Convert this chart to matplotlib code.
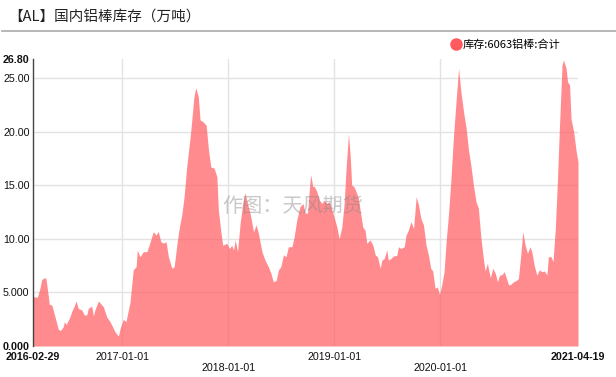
import numpy as np
import matplotlib
matplotlib.use("Agg")
import matplotlib.pyplot as plt
import matplotlib.dates as mdates
from matplotlib.lines import Line2D

plt.rcParams['font.family'] = ['Liberation Sans', 'Noto Sans CJK SC', 'DejaVu Sans']

# data: days after 2016-02-29 and stock (万吨)
start_date = '2016-02-29'
end_date = '2021-04-19'
day_offsets = [0, 15, 24, 30, 41, 45, 53, 56, 65, 76, 87, 95, 104, 108, 114, 127, 133, 141, 148, 156,
               168, 176, 185, 190, 202, 208, 213, 225, 233, 242, 254, 263, 271, 282, 294, 300, 311, 320,
               334, 345, 355, 359, 368, 380, 392, 400, 414, 424, 431, 440, 449, 458, 466, 478, 486, 495,
               504, 512, 520, 529, 541, 546, 554, 560, 569, 575, 586, 596, 604, 612, 623, 633, 638, 646,
               653, 667, 676, 684, 690, 696, 704, 713, 722, 730, 738, 747, 759, 768, 776, 788, 799, 810,
               819, 827, 837, 845, 853, 862, 871, 879, 891, 899, 908, 919, 929, 937, 945, 951, 956, 963,
               968, 977, 986, 994, 1002, 1011, 1020, 1029, 1036, 1046, 1054, 1063, 1071, 1078, 1086, 1092,
               1097, 1105, 1112, 1120, 1126, 1135, 1143, 1149, 1160, 1170, 1178, 1186, 1195, 1201, 1209,
               1218, 1223, 1232, 1241, 1252, 1258, 1266, 1278, 1284, 1292, 1301, 1310, 1319, 1327, 1335,
               1344, 1353, 1361, 1369, 1376, 1384, 1392, 1399, 1407, 1415, 1422, 1430, 1438, 1447, 1457,
               1465, 1473, 1482, 1491, 1499, 1507, 1516, 1525, 1533, 1542, 1551, 1556, 1564, 1574, 1583,
               1591, 1599, 1606, 1614, 1622, 1629, 1637, 1645, 1654, 1663, 1671, 1679, 1686, 1694, 1702,
               1711, 1717, 1725, 1734, 1743, 1752, 1760, 1769, 1774, 1783, 1790, 1798, 1805, 1812, 1821,
               1826, 1835, 1840, 1847, 1852, 1861, 1870, 1876]
stock = [4.6, 4.55, 5.4, 6.2, 6.4, 6.2, 4.6, 3.9, 3.8, 2.7, 1.55, 1.45, 1.8, 2.27, 2.0, 2.7, 3.2, 3.67, 4.2, 3.5,
         3.36, 2.9, 2.9, 3.5, 3.73, 2.8, 3.36, 4.2, 3.95, 3.67, 2.7, 2.36, 1.96, 1.33, 0.93, 1.65, 2.5, 2.27,
         4.1, 7.1, 7.4, 8.96, 8.33, 8.8, 8.8, 9.42, 10.66, 10.35, 10.7, 9.73, 9.6, 9.73, 8.33, 7.25, 7.4, 9.42,
         11.13, 12.2, 13.9, 16.7, 19.5, 20.9, 23.25, 24.1, 23.25, 21.1, 20.9, 20.6, 18.3, 16.7, 16.6, 15.8, 12.7, 10.8,
         9.4, 9.58, 9.1, 9.4, 8.96, 9.9, 8.8, 11.45, 13.3, 14.3, 13.3, 12.4, 10.66, 11.3, 10.5, 8.8, 8.0, 7.4,
         6.78, 6.0, 6.1, 7.1, 7.4, 8.5, 8.33, 9.26, 9.26, 10.2, 11.75, 13.0, 13.3, 12.4, 12.4, 14.55, 16.0, 14.86,
         14.9, 14.4, 13.6, 13.3, 13.6, 13.3, 13.46, 12.7, 12.06, 11.1, 10.0, 11.1, 13.3, 16.7, 19.8, 17.66,
         15.0, 14.86, 14.4, 13.78, 12.7, 11.1, 10.8, 9.58, 9.9, 9.4, 8.5, 8.33, 7.25, 8.0, 8.17,
         8.96, 8.0, 8.17, 8.4, 8.45, 9.26, 9.1, 9.26, 10.35, 10.8, 11.6, 10.97, 13.93, 13.15, 11.9,
         11.3, 9.42, 8.5, 7.25, 7.0, 5.38, 5.5, 4.82, 5.7, 6.93, 9.73, 12.2, 15.3, 19.4, 23.1,
         25.9, 23.7, 21.86, 20.3, 18.3, 16.9, 15.0, 13.46, 12.85, 10.05, 8.0, 7.0, 7.7, 6.37, 7.25,
         6.8, 6.0, 6.6, 6.65, 6.93, 6.37, 5.7, 5.75, 6.0, 6.1, 6.3, 8.5, 10.66, 9.42, 8.65,
         9.26, 8.8, 7.55, 6.62, 7.1, 6.93, 7.0, 6.62, 8.33, 8.33, 7.86, 10.97, 15.3, 20.3, 26.2,
         26.68, 25.9, 24.65, 24.35, 21.2, 20.0, 18.1, 17.2]

tick_dates = ['2016-02-29', '2017-01-01', '2018-01-01', '2019-01-01', '2020-01-01', '2021-04-19']
y_ticks = [0, 5, 10, 15, 20, 25, 26.8]
y_labels = ['0.000', '5.000', '10.00', '15.00', '20.00', '25.00', '26.80']
series_name = '库存:6063铝棒:合计'
title = '【AL】国内铝棒库存（万吨）'

red = '#FF5A5F'

dates = np.datetime64(start_date) + np.array(day_offsets).astype('timedelta64[D]')
x = mdates.date2num(dates)

fig = plt.figure(figsize=(6.16, 3.77), dpi=100)
ax = fig.add_axes([33/616, 1-346/377, 545/616, 287.3/377])

ax.fill_between(x, stock, 0, color=red, alpha=0.7, linewidth=0, zorder=2)

ax.set_xlim(mdates.date2num(np.datetime64(start_date)), mdates.date2num(np.datetime64(end_date)))
ax.set_ylim(0, 26.8)

ax.set_yticks(y_ticks)
ax.set_yticklabels(y_labels)
xt = mdates.date2num(np.array(tick_dates, dtype='datetime64[D]'))
ax.set_xticks(xt)
xlabels = []
for i, d in enumerate(tick_dates):
    if i in (2, 4):
        xlabels.append('\n' + d)
    else:
        xlabels.append(d)
ax.set_xticklabels(xlabels)

ax.tick_params(axis='both', length=0, labelsize=7.7, colors='#111111')
ax.tick_params(axis='y', pad=2.5)
ax.tick_params(axis='x', pad=4)
for i in (0, len(y_ticks) - 1):
    ax.get_yticklabels()[i].set_fontweight('bold')
for i in (0, len(tick_dates) - 1):
    ax.get_xticklabels()[i].set_fontweight('bold')

ax.grid(True, color='#e3e3e3', linewidth=1, zorder=0)
ax.set_axisbelow(True)
ygl = ax.get_ygridlines()
ygl[0].set_visible(False)
ygl[-1].set_visible(False)
xgl = ax.get_xgridlines()
xgl[0].set_visible(False)
xgl[-1].set_visible(False)

for s in ['top', 'right', 'bottom']:
    ax.spines[s].set_visible(False)
ax.spines['left'].set_color('#444444')
ax.spines['left'].set_linewidth(1)

# title and separator
fig.text(8/616, 1-17/377, title, fontsize=10.5, family=['Noto Sans CJK SC'], color='#222222', va='center')
fig.add_artist(Line2D([2/616, 1], [1-31/377, 1-31/377], color='#aaaaaa', linewidth=1.2))

handle = Line2D([], [], marker='o', color=red, markersize=8, linestyle='None')
fig.legend([handle], [series_name], loc='center left', bbox_to_anchor=(446/616, 1-45/377),
           frameon=False, fontsize=8, handlelength=0.8, handletextpad=0.2, borderpad=0,
           prop={'family': ['Noto Sans CJK SC'], 'size': 8})

fig.text(293/616, 1-206/377, '作图：天风期货', fontsize=14.5, family=['Noto Sans CJK SC'],
         color='#888888', alpha=0.45, ha='center', va='center', zorder=5)

fig.savefig('out.png', dpi=100)
